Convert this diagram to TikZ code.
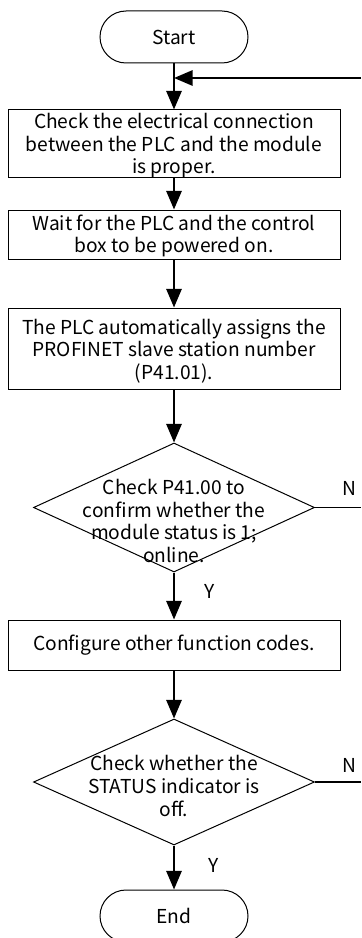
\documentclass[tikz,border=0pt]{standalone}
\usepackage{fontspec}
\setmainfont{Noto Sans CJK SC}
\usetikzlibrary{arrows.meta,shapes.geometric}
\begin{document}
\begin{tikzpicture}[x=0.75pt,y=-0.75pt,
  every node/.style={font=\fontsize{14.4}{16.9}\selectfont, inner sep=0pt},
  term/.style={draw, line width=0.75pt, rounded corners=19.5pt, minimum width=111pt, minimum height=39pt},
  proc/.style={draw, line width=0.75pt, minimum width=249pt, align=center},
  dec/.style={draw, diamond, line width=0.75pt, minimum width=210.75pt, inner sep=0pt},
  lbl/.style={align=center},
  flow/.style={line width=1.5pt, -{Triangle[length=14pt,width=11.5pt]}},
  thin/.style={line width=0.9pt}
]
\useasboundingbox (0,0) rectangle (361,938);
\node[term] (start) at (174,37) {Start};
\node[proc, minimum height=50.25pt] (b1) at (174,143.5) {};
\node[lbl] at (174,146) {Check the electrical connection\\between the PLC and the module\\is proper.};
\node[proc, minimum height=36.75pt] (b2) at (174,234.5) {};
\node[lbl] at (174,236) {Wait for the PLC and the control\\box to be powered on.};
\node[proc, minimum height=60.75pt] (b3) at (174,348.5) {};
\node[lbl] at (174,351) {The PLC automatically assigns the\\PROFINET slave station number\\(P41.01).};
\node[dec, minimum height=96.75pt] (d1) at (174,507.5) {};
\node[lbl] at (174,521) {Check P41.00 to\\confirm whether the\\module status is 1;\\online.};
\node[proc, minimum height=37.5pt] (b4) at (174,645) {Configure other function codes.};
\node[dec, minimum height=94.5pt] (d2) at (174,782) {};
\node[lbl] at (174,786) {Check whether the\\STATUS indicator is\\off.};
\node[term] (end) at (174,916) {End};

\coordinate (fb) at (361,78);
\coordinate (join) at (174,78);
\coordinate (n1) at (361,507.5);
\coordinate (n2) at (361,782);

\draw[flow] (start.south) -- (b1.north);
\draw[flow] (fb) -- (join);
\draw[flow] (b1.south) -- (b2.north);
\draw[flow] (b2.south) -- (b3.north);
\draw[flow] (b3.south) -- (d1.north);
\draw[flow] (d1.south) -- node[pos=0.4, right=22pt] {Y} (b4.north);
\draw[flow] (b4.south) -- (d2.north);
\draw[flow] (d2.south) -- node[pos=0.45, right=25pt] {Y} (end.north);
\draw[thin] (d1.east) -- (n1);
\draw[thin] (d2.east) -- (n2);
\node at (349,488) {N};
\node at (349,765) {N};
\end{tikzpicture}
\end{document}
